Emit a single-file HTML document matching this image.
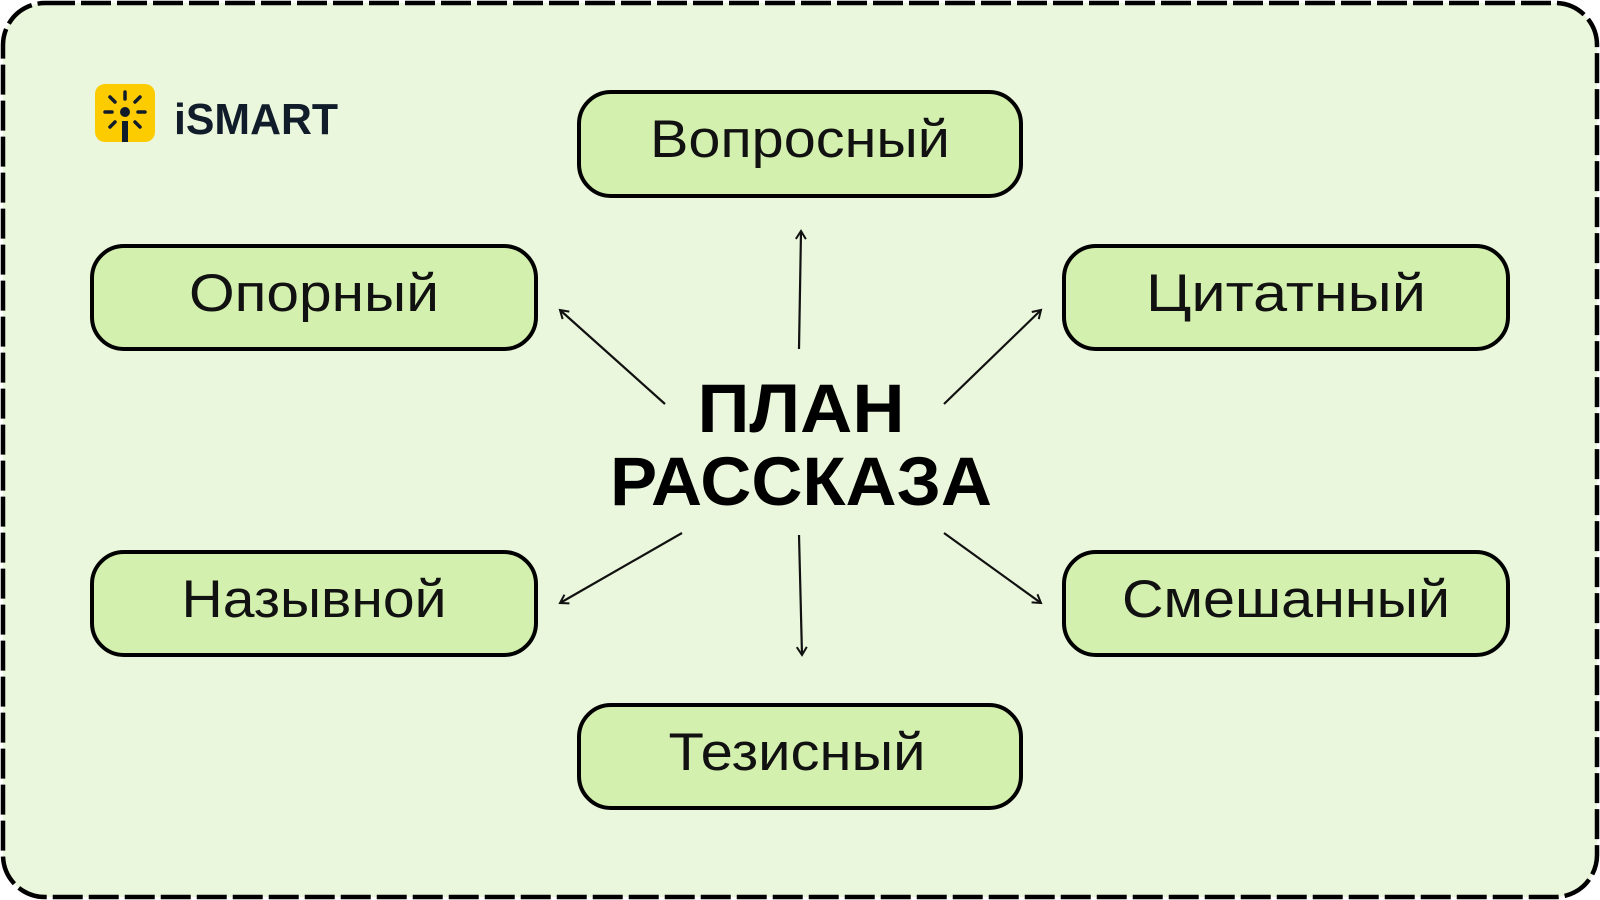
<!DOCTYPE html>
<html><head><meta charset="utf-8"><style>
html,body{margin:0;padding:0;background:#fff;}
svg{display:block;}
text{font-family:"Liberation Sans",sans-serif;}
</style></head><body>
<svg width="1600" height="900" viewBox="0 0 1600 900" xmlns="http://www.w3.org/2000/svg">
<defs>
<marker id="a" markerWidth="12" markerHeight="12" refX="10" refY="6" orient="auto" markerUnits="userSpaceOnUse">
<path d="M2,1 L10,6 L2,11" fill="none" stroke="#111" stroke-width="2"/>
</marker>
</defs>
<rect x="3" y="3" width="1594" height="894" rx="42" fill="#eaf7dc" stroke="#000" stroke-width="4.5" stroke-dasharray="30 6"/>
<!-- logo -->
<rect x="95" y="84" width="60" height="58" rx="10" fill="#fdcc00"/>
<g stroke="#111c2b" stroke-width="3.5" stroke-linecap="round">
<line x1="125" y1="92" x2="125" y2="99"/>
<line x1="105" y1="112" x2="112" y2="112"/>
<line x1="138" y1="112" x2="145" y2="112"/>
<line x1="110" y1="97" x2="115" y2="102"/>
<line x1="140" y1="97" x2="135" y2="102"/>
<line x1="110" y1="127" x2="115" y2="122"/>
<line x1="140" y1="127" x2="135" y2="122"/>
</g>
<circle cx="125" cy="112" r="5" fill="#111c2b"/>
<rect x="122" y="121" width="6" height="21" fill="#111c2b"/>
<text x="174" y="134" font-size="44" font-weight="bold" fill="#111c2b" textLength="164" lengthAdjust="spacingAndGlyphs">iSMART</text>
<!-- boxes -->
<g fill="#d4f0ae" stroke="#000" stroke-width="4">
<rect x="579" y="92" width="442" height="104" rx="32"/>
<rect x="92" y="246" width="444" height="103" rx="32"/>
<rect x="1064" y="246" width="444" height="103" rx="32"/>
<rect x="92" y="552" width="444" height="103" rx="32"/>
<rect x="1064" y="552" width="444" height="103" rx="32"/>
<rect x="579" y="705" width="442" height="103" rx="32"/>
</g>
<g font-size="53" fill="#111" text-anchor="middle" lengthAdjust="spacingAndGlyphs">
<text x="800" y="157" textLength="300" lengthAdjust="spacingAndGlyphs">Вопросный</text>
<text x="314" y="311" textLength="250" lengthAdjust="spacingAndGlyphs">Опорный</text>
<text x="1286" y="311" textLength="280" lengthAdjust="spacingAndGlyphs">Цитатный</text>
<text x="314" y="617" textLength="265" lengthAdjust="spacingAndGlyphs">Назывной</text>
<text x="1286" y="617" textLength="328" lengthAdjust="spacingAndGlyphs">Смешанный</text>
<text x="797" y="770" textLength="257" lengthAdjust="spacingAndGlyphs">Тезисный</text>
</g>
<g font-size="69" font-weight="bold" fill="#000" text-anchor="middle">
<text x="801" y="432" textLength="207" lengthAdjust="spacingAndGlyphs">ПЛАН</text>
<text x="801" y="505" textLength="382" lengthAdjust="spacingAndGlyphs">РАССКАЗА</text>
</g>
<g stroke="#111" stroke-width="2.2" marker-end="url(#a)">
<line x1="799" y1="349" x2="801" y2="231"/>
<line x1="799" y1="535" x2="802" y2="655"/>
<line x1="665" y1="404" x2="560" y2="310"/>
<line x1="944" y1="404" x2="1041" y2="310"/>
<line x1="682" y1="533" x2="560" y2="603"/>
<line x1="944" y1="533" x2="1041" y2="603"/>
</g>
</svg>
</body></html>
